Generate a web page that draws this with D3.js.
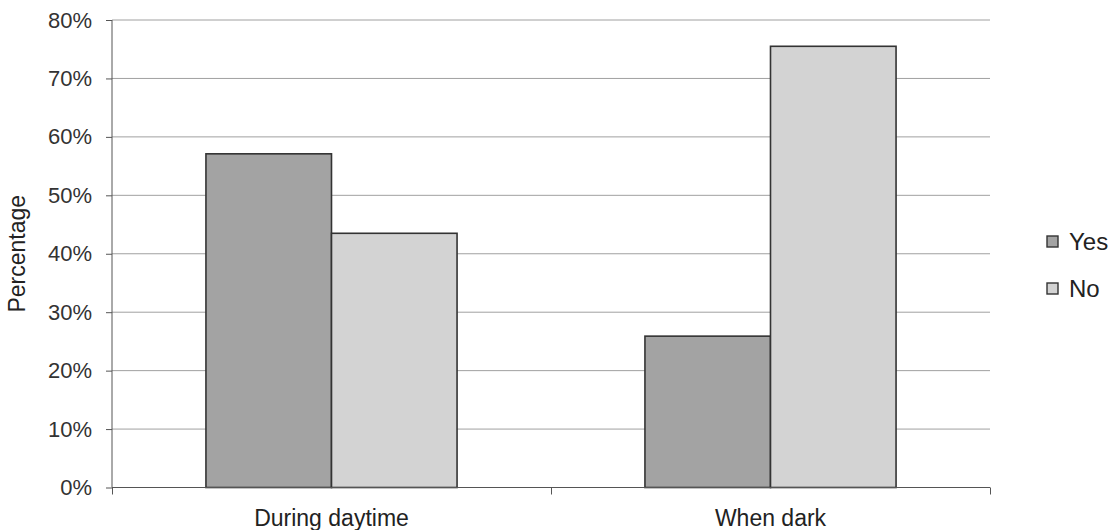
<!DOCTYPE html>
<html><head><meta charset="utf-8">
<script src="https://cdn.jsdelivr.net/npm/d3@7"></script>
<style>body{margin:0;background:#fff;}svg{display:block;}</style>
</head><body>
<svg id="c" width="1120" height="530"></svg>
<script>
const categories = ["During daytime", "When dark"];
const seriesNames = ["Yes", "No"];
const yesValues = [57.1, 25.9];
const noValues = [43.5, 75.5];
const yTicks = [0, 10, 20, 30, 40, 50, 60, 70, 80];

const colors = {Yes: "#a3a3a3", No: "#d3d3d3"};
const font = "'Liberation Sans', Arial, sans-serif";
const svg = d3.select("#c");
const L = 112, R = 990, T = 20, B = 487.5;

const y = d3.scaleLinear().domain([0, 80]).range([B, T]);
const x0 = d3.scaleBand().domain(categories).range([L, R]).paddingInner(0.428).paddingOuter(0.214);
const x1 = d3.scaleBand().domain(seriesNames).range([0, x0.bandwidth()]);

// gridlines
svg.append("g").selectAll("line").data(yTicks.filter(d => d > 0)).join("line")
  .attr("x1", L).attr("x2", R).attr("y1", d => y(d)).attr("y2", d => y(d))
  .attr("stroke", "#a0a0a0").attr("stroke-width", 1);

// bars
const data = categories.map((c, i) => ({cat: c, vals: [{s: "Yes", v: yesValues[i]}, {s: "No", v: noValues[i]}]}));
svg.append("g").selectAll("g").data(data).join("g")
  .attr("transform", d => `translate(${x0(d.cat)},0)`)
  .selectAll("rect").data(d => d.vals).join("rect")
  .attr("x", d => x1(d.s)).attr("width", x1.bandwidth())
  .attr("y", d => y(d.v)).attr("height", d => B - y(d.v))
  .attr("fill", d => colors[d.s]).attr("stroke", "#333").attr("stroke-width", 1.6);

// y axis
const yAxis = d3.axisLeft(y).tickValues(yTicks).tickFormat(d => d + "%").tickSize(6).tickPadding(14);
const gy = svg.append("g").attr("transform", `translate(${L},0)`).call(yAxis);
gy.select(".domain").attr("stroke", "#555").attr("d", `M0,${B}V${T}`);
gy.selectAll(".tick line").attr("stroke", "#555");
gy.selectAll("text").attr("font-family", font).attr("font-size", 22).attr("fill", "#333");

// x axis
const xAxisScale = d3.scaleLinear().domain([0, 2]).range([L, R]);
const gx = svg.append("g").attr("transform", `translate(0,${B})`)
  .call(d3.axisBottom(xAxisScale).tickValues([0, 1, 2]).tickSize(7).tickFormat(""));
gx.select(".domain").attr("stroke", "#555").attr("d", `M${L},0H${R}`);
gx.selectAll(".tick line").attr("stroke", "#555");

svg.append("g").selectAll("text").data(categories).join("text")
  .attr("x", d => x0(d) + x0.bandwidth() / 2).attr("y", 526)
  .attr("text-anchor", "middle").attr("font-family", font).attr("font-size", 23).attr("fill", "#222")
  .text(d => d);

// y title
svg.append("text").attr("transform", `translate(25,${(T + B) / 2}) rotate(-90)`)
  .attr("text-anchor", "middle").attr("font-family", font).attr("font-size", 23).attr("fill", "#222")
  .text("Percentage");

// legend
const lg = svg.append("g").selectAll("g").data(seriesNames).join("g")
  .attr("transform", (d, i) => `translate(1047,${236 + i * 47})`);
lg.append("rect").attr("width", 11).attr("height", 11)
  .attr("fill", d => colors[d]).attr("stroke", "#333").attr("stroke-width", 1.4);
lg.append("text").attr("x", 22).attr("y", 14).attr("font-family", font).attr("font-size", 24).attr("fill", "#222")
  .text(d => d);
</script>
</body></html>
